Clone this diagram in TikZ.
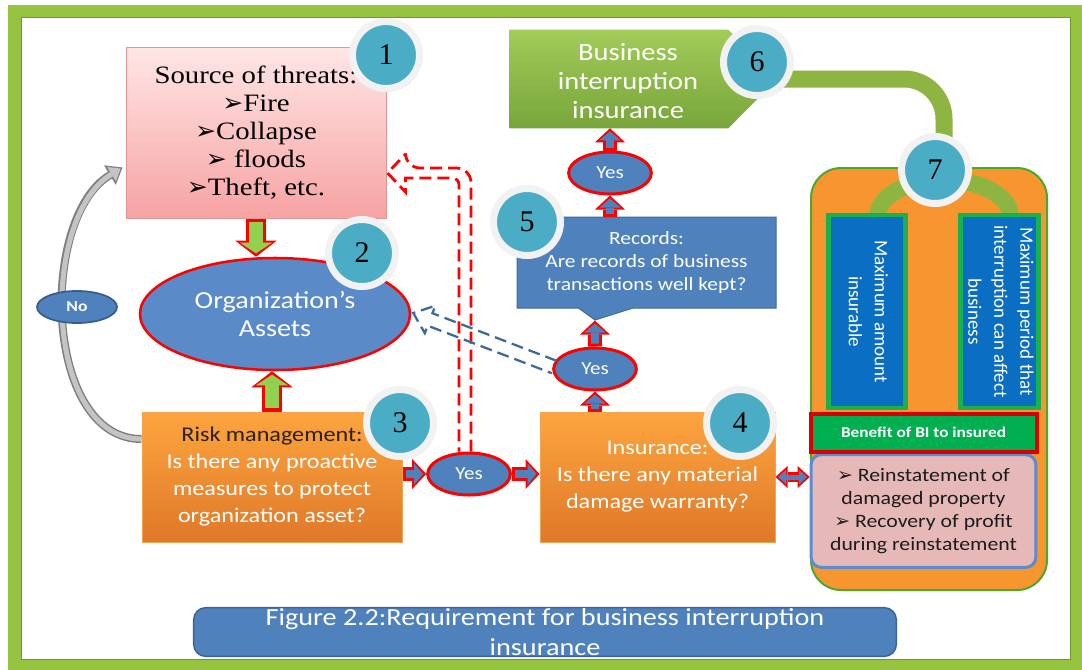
\documentclass[tikz,border=0pt]{standalone}
\usepackage{fontspec}
\usepackage{graphicx}
\setmainfont{Carlito}[FakeStretch=1.15]
\newfontfamily\serifthreat{Liberation Serif}[FakeStretch=1.15]
\newfontfamily\numfont{Liberation Serif}
\newfontfamily\plainsans{Carlito}
\newfontfamily\dingfont{DejaVu Sans}
\usetikzlibrary{arrows.meta,calc,shapes.geometric,shapes.callouts,shadows}

\definecolor{frameGreen}{HTML}{96C441}
\definecolor{frameDark}{HTML}{6E9A2C}
\definecolor{threatTop}{HTML}{FFE6E6}
\definecolor{threatBot}{HTML}{F7A3A3}
\definecolor{threatLine}{HTML}{E39595}
\definecolor{assetBlue}{HTML}{5A8AC8}
\definecolor{orangeTop}{HTML}{FCA53E}
\definecolor{orangeBot}{HTML}{E0782A}
\definecolor{orangeLine}{HTML}{F2A550}
\definecolor{riskDark}{HTML}{2E2112}
\definecolor{recBlue}{HTML}{4F81BD}
\definecolor{recLine}{HTML}{3F6C9E}
\definecolor{biTop}{HTML}{A2CC5A}
\definecolor{biBot}{HTML}{78A53A}
\definecolor{bandGreen}{HTML}{8EB542}
\definecolor{frameOrange}{HTML}{F7962F}
\definecolor{frameLine}{HTML}{4EA72E}
\definecolor{colBlue}{HTML}{0A6FC2}
\definecolor{colLine}{HTML}{17B14F}
\definecolor{benefitGreen}{HTML}{00B050}
\definecolor{benefitRed}{HTML}{D80000}
\definecolor{pinkFill}{HTML}{E6B9B8}
\definecolor{pinkLine}{HTML}{5B8BD0}
\definecolor{pinkText}{HTML}{1C1C1C}
\definecolor{capBlue}{HTML}{4F81BD}
\definecolor{capLine}{HTML}{3B6496}
\definecolor{yesBlue}{HTML}{4F81BD}
\definecolor{noLine}{HTML}{385D8A}
\definecolor{badgeTeal}{HTML}{4BACC6}
\definecolor{badgeRing}{HTML}{F2F2F2}
\definecolor{arrowGreen}{HTML}{92D050}
\definecolor{arrowBlue}{HTML}{4F81BD}
\definecolor{grayLine}{HTML}{7F7F7F}
\definecolor{grayFill}{HTML}{C4C4C4}
\definecolor{dashBlue}{HTML}{3E6A9A}

\newcommand{\bul}{{\dingfont ➢}}
\newcommand{\fatlink}[3]{%
  \draw[rim#1] (#2) -- (#3);
  \draw[core#1] (#2) -- (#3);}

\tikzset{
  threatbox/.style={rectangle, draw=threatLine, line width=0.75pt, top color=threatTop, bottom color=threatBot, minimum width=195pt, minimum height=128.25pt, inner sep=0pt, align=center, font=\serifthreat\fontsize{18.75}{21}\selectfont},
  assetell/.style={ellipse, draw=red, line width=1.9pt, fill=assetBlue, minimum width=202.5pt, minimum height=84pt, inner sep=0pt, align=center, text=white, font=\fontsize{18.3}{21}\selectfont},
  orangebox/.style={rectangle, draw=orangeLine, line width=0.75pt, top color=orangeTop, bottom color=orangeBot, minimum height=97.5pt, inner sep=0pt, align=center, text=white, font=\fontsize{15.75}{20.25}\selectfont},
  recbox/.style={rectangle callout, draw=recLine, line width=0.75pt, fill=recBlue, minimum width=194.25pt, minimum height=68.25pt, callout pointer width=41pt, inner sep=0pt, align=center, text=white, font=\fontsize{14}{17.25}\selectfont},
  bitext/.style={align=center, text=white, inner sep=0pt, font=\fontsize{18.6}{21.75}\selectfont},
  yesell/.style={ellipse, draw=red, line width=2.25pt, fill=yesBlue, minimum width=62pt, minimum height=31.5pt, inner sep=0pt, text=white, font=\fontsize{13.75}{16}\selectfont},
  noell/.style={ellipse, draw=noLine, line width=1.3pt, fill=yesBlue, minimum width=60pt, minimum height=24pt, inner sep=0pt, text=white, font=\bfseries\fontsize{11.5}{13}\selectfont},
  biframe/.style={rectangle, rounded corners=22.5pt, draw=frameLine, line width=1.5pt, fill=frameOrange, minimum width=177pt, minimum height=316.5pt},
  colbox/.style={rectangle, draw=colLine, line width=3.4pt, fill=colBlue, minimum width=58pt, minimum height=144.5pt, inner sep=0pt, text=white, font=\plainsans\fontsize{14.25}{19.5}\selectfont},
  benefitbar/.style={rectangle, draw=benefitRed, line width=3pt, fill=benefitGreen, minimum width=169.5pt, minimum height=28.5pt, inner sep=0pt, text=white, font=\bfseries\fontsize{11.25}{13}\selectfont},
  pinkbox/.style={rectangle, rounded corners=7.5pt, draw=pinkLine, line width=2.25pt, fill=pinkFill, minimum width=168.5pt, minimum height=84.5pt, inner sep=0pt, align=center, text=pinkText, font=\fontsize{14.2}{17.25}\selectfont},
  captionbox/.style={rectangle, rounded corners=9pt, draw=capLine, line width=1.1pt, fill=capBlue, minimum width=527pt, minimum height=36.5pt, inner sep=0pt, align=center, text=white, font=\fontsize{18.4}{22.5}\selectfont},
  badge/.style={circle, fill=badgeTeal, draw=badgeRing, line width=5.25pt, minimum size=50.25pt, inner sep=0pt, font=\numfont\fontsize{22.5}{22.5}\selectfont, drop shadow={shadow xshift=1.5pt, shadow yshift=-2pt, fill=black, opacity=0.35}},
  rimblue/.style={draw=red, line width=10.5pt, -{Triangle[length=10.5pt,width=22.5pt,line width=0pt]}},
  coreblue/.style={draw=arrowBlue, line width=6pt, shorten <=2.25pt, shorten >=2.25pt, -{Triangle[length=6.75pt,width=15.75pt,line width=0pt]}},
  rimgreen/.style={draw=red, line width=15pt, -{Triangle[length=12pt,width=31pt,line width=0pt]}},
  coregreen/.style={draw=arrowGreen, line width=10pt, shorten <=2.5pt, shorten >=2.5pt, -{Triangle[length=8pt,width=24pt,line width=0pt]}},
  rimboth/.style={draw=red, line width=7.5pt, {Triangle[length=9pt,width=16.5pt,line width=0pt]}-{Triangle[length=9pt,width=16.5pt,line width=0pt]}},
  coreboth/.style={draw=arrowBlue, line width=3.75pt, shorten <=2pt, shorten >=2pt, {Triangle[length=6pt,width=11pt,line width=0pt]}-{Triangle[length=6pt,width=11pt,line width=0pt]}},
  grayrim/.style={draw=grayLine, line width=6pt, -{Triangle[length=11pt,width=17pt,line width=0pt]}},
  graycore/.style={draw=grayFill, line width=3.8pt, shorten >=1.6pt, -{Triangle[length=8pt,width=12.5pt,line width=0pt]}},
  dashred/.style={draw=red, line width=2.1pt, dash pattern=on 9pt off 4.5pt},
  dashblue/.style={draw=dashBlue, line width=1.7pt, dash pattern=on 9pt off 4.5pt},
  band/.style={draw=bandGreen, line width=12.75pt},
}

\begin{document}
\begin{tikzpicture}[x=0.75pt,y=0.75pt,yscale=-1,xscale=1]
\useasboundingbox (0,0) rectangle (1082,669);
\fill[white] (0,0) rectangle (1082,669);

%Shape: Rectangle [id:threats]
\node[threatbox] (threats) at (256,132.5) {Source of threats:\\\bul Fire\\\bul Collapse\\\bul\ floods\\\bul Theft, etc.};
%Shape: Ellipse [id:assets]
\node[assetell] (assets) at (275,314) {Organization’s\\Assets};
%Shape: Rectangle [id:risk]
\node[orangebox, minimum width=195pt] (risk) at (272,477) {{\color{riskDark}Risk management:}\\Is there any proactive\\measures to protect\\organization asset?};
%Shape: Rectangle [id:insur]
\node[orangebox, minimum width=176.25pt] (insur) at (657.5,477) {Insurance:\\Is there any material\\damage warranty?};
%Shape: Callout [id:records]
\node[recbox, callout absolute pointer={(595,320)}] (records) at (646.5,262.5) {Records:\\Are records of business\\transactions well kept?};

%Shape: Pentagon [id:bi]
\node[minimum width=163.5pt, minimum height=73.5pt, inner sep=0pt] (bi) at (619,79) {};
\shade[top color=biTop, bottom color=biBot] (bi.north west) -- (bi.north east) -- ($(bi.east)+(49,0)$) -- (bi.south east) -- (bi.south west) -- cycle;
% Text Node
\node[bitext] (bilabel) at (628,81) {Business\\interruption\\insurance};

%Shape: Green band 6 to 7
\coordinate (c6) at (757,62);
\coordinate (c7) at (935,170);
\draw[band, rounded corners=30pt] ($(c6)+(20,17)$) -| ($(c7)+(9,0)$);

%Shape: Rounded Rectangle [id:biframe]
\node[biframe] (frame7) at (929,379) {};
\draw[band, line width=12.75pt] (878,215) arc[start angle=180, end angle=360, x radius=66, y radius=35];
\node[colbox] (amount) at (867,311.5) {\rotatebox{-90}{\begin{tabular}{@{}c@{}}Maximum amount\\insurable\end{tabular}}};
\node[colbox] (period) at (999.5,311.5) {\rotatebox{-90}{\begin{tabular}{@{}c@{}}Maximum period that\\interruption can affect\\business\end{tabular}}};
\node[pinkbox] (gains) at (923.5,511) {\bul\ Reinstatement of\\damaged property\\\bul\ Recovery of profit\\during reinstatement};
\node[benefitbar] (benefit) at (923.5,432.5) {Benefit of BI to insured};

%Shape: Rounded Rectangle [id:caption]
\node[captionbox] (caption) at (545,632) {Figure 2.2:Requirement for business interruption\\insurance};

% Yes nodes
\node[yesell] (yes1) at (469,474) {Yes};
\node[yesell] (yes2) at (595,369) {Yes};
\node[yesell] (yes3) at (610,173) {Yes};

%Shape: Gray curved arrow
\draw[grayrim] ($(risk.west)+(0,-38)$) to[out=180, in=149, looseness=0.92] ($(threats.west)+(-3,35)$);
\draw[graycore] ($(risk.west)+(0,-38)$) to[out=180, in=149, looseness=0.92] ($(threats.west)+(-3,35)$);
\node[noell] (no) at (77,307) {No};

%Shape: Block arrows
\fatlink{green}{threats.south}{threats.south |- assets.north}
\fatlink{green}{risk.north}{risk.north |- assets.south}
\fatlink{blue}{risk.east |- yes1}{yes1.west}
\fatlink{blue}{yes1.east}{insur.west |- yes1}
\fatlink{blue}{insur.north -| yes2}{yes2.south}
\fatlink{blue}{yes2.north}{records.pointer}
\fatlink{blue}{records.north -| yes3}{yes3.south}
\fatlink{blue}{yes3.north}{bi.south -| yes3}
\draw[rimboth] (insur.east) -- (gains.west |- insur.east);
\draw[coreboth] (insur.east) -- (gains.west |- insur.east);

%Shape: Dashed red arrow
\coordinate (dtip) at ($(threats.east)+(1,40.5)$);
\draw[dashred] ($(yes1.north)+(2,0)$) [rounded corners=11pt] |- ($(dtip)+(18,-5)$) [sharp corners] -- ++(0,-14) -- (dtip) -- ++(18,19) -- ++(0,-14) [rounded corners=5pt] -| ($(yes1.north)+(-10,0)$);

%Shape: Dashed blue arrow
\coordinate (btip) at ($(assets.east)+(2,-1)$);
\coordinate (bbase) at ($(yes2.west)+(2,-2)$);
\coordinate (bhead) at ($(btip)!13.5pt!(bbase)$);
\draw[dashblue] ($(bbase)!5pt!90:(btip)$) -- ($(bhead)!5pt!90:(btip)$) -- ($(bhead)!11pt!90:(btip)$) -- (btip) -- ($(bhead)!11pt!-90:(btip)$) -- ($(bhead)!5pt!-90:(btip)$) -- ($(bbase)!5pt!-90:(btip)$);

% Number badges
\node[badge] (num1) at (386,55) {1};
\node[badge] (num2) at (362,253) {2};
\node[badge] (num3) at (400,423) {3};
\node[badge] (num4) at (740,423) {4};
\node[badge] (num5) at (527,222) {5};
\node[badge] (num6) at (c6) {6};
\node[badge] (num7) at (c7) {7};

%Shape: Frame
\draw[draw=frameGreen, line width=9.75pt] (14.5,11) rectangle (1077,666);
\draw[draw=frameDark, line width=0.75pt] (21.5,17.5) rectangle (1070,659.5);
\end{tikzpicture}
\end{document}
